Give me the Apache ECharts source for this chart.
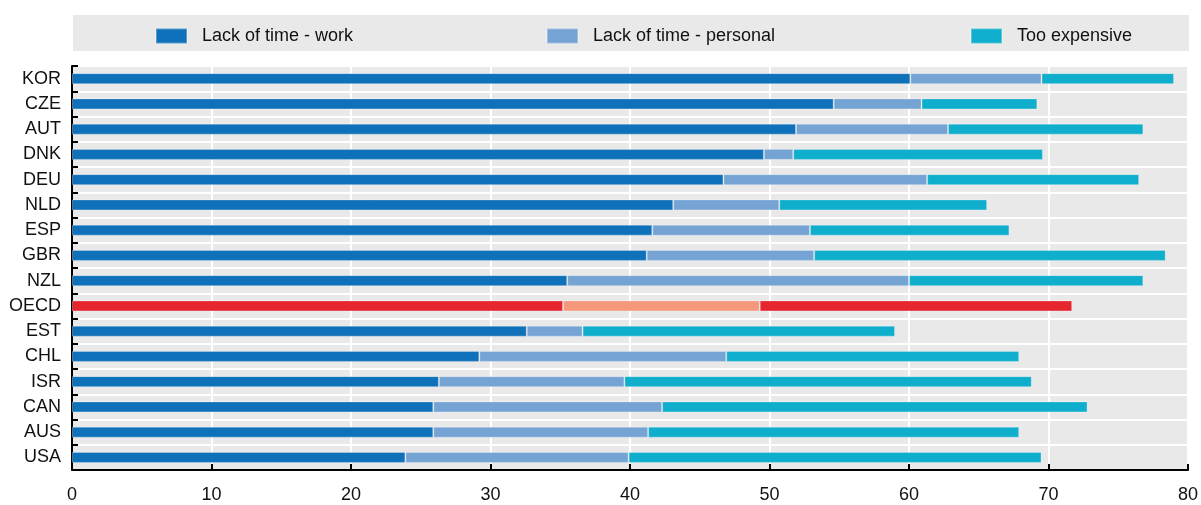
<!DOCTYPE html>
<html>
<head>
<meta charset="utf-8">
<script src="https://cdn.jsdelivr.net/npm/echarts@6/dist/echarts.min.js"></script>
<style>
html,body{margin:0;padding:0;background:#fff;}
#chart{width:1201px;height:505px;}
</style>
</head>
<body>
<div id="chart"></div>
<script>
const categories = ['KOR','CZE','AUT','DNK','DEU','NLD','ESP','GBR','NZL','OECD','EST','CHL','ISR','CAN','AUS','USA'];
const seriesNames = ['Lack of time - work','Lack of time - personal','Too expensive'];
const lackWork     = [60.1,54.6,51.9,49.6,46.7,43.1,41.6,41.2,35.5,35.2,32.6,29.2,26.3,25.9,25.9,23.9];
const lackPersonal = [9.4, 6.3, 10.9,2.1, 14.6,7.6, 11.3,12.0,24.5,14.1,4.0, 17.7,13.3,16.4,15.4,16.0];
const tooExpensive = [9.5, 8.3, 14.0,17.9,15.2,14.9,14.3,25.2,16.8,22.4,22.4,21.0,29.2,30.5,26.6,29.6];
const xTicks = [0,10,20,30,40,50,60,70,80];

const FONT = "'Liberation Sans Narrow','Arial Narrow','Liberation Sans',Arial,sans-serif";
const colors = ['#0F71B9','#74A3D4','#0FAECC'];
const oecdColors = ['#E5262E','#F5977A','#E5262E'];
const highlight = 'OECD';

function buildData(values, idx){
  return values.map((v,i)=> categories[i]===highlight
    ? {value:v, itemStyle:{color:oecdColors[idx]}}
    : v);
}

const chart = echarts.init(document.getElementById('chart'), null, {renderer:'canvas'});
const allSeries = [lackWork, lackPersonal, tooExpensive].map((vals, idx)=>({
  name: seriesNames[idx],
  type: 'bar',
  stack: 'total',
  barWidth: 11,
  data: buildData(vals, idx),
  itemStyle: {color: colors[idx], borderColor:'rgba(255,255,255,0.3)', borderWidth:1},
  emphasis:{disabled:true},
  animation:false
}));

const legendLefts = [155, 546, 970];
const option = {
  animation: false,
  graphic: [{type:'rect', left:73, top:15, shape:{width:1116, height:36}, style:{fill:'#E9E9E9'}, z:-1}],
  legend: seriesNames.map((n,i)=>({
    data:[n], left: legendLefts[i], top: 27, padding:0,
    itemWidth:31, itemHeight:15, icon:'rect',
    textStyle:{fontFamily:FONT, fontSize:18, color:'#111', padding:[0,0,0,10]},
    selectedMode:false
  })),
  grid: {left:72, right:13, top:66, bottom:35, show:true, backgroundColor:'#E9E9E9', borderWidth:0},
  xAxis: {
    type:'value', min:xTicks[0], max:xTicks[xTicks.length-1], interval:10,
    axisLine:{show:true, lineStyle:{color:'#000', width:2}},
    axisTick:{show:true, inside:true, length:6, lineStyle:{color:'#000', width:2}},
    splitLine:{show:true, lineStyle:{color:'#fff', width:2}},
    axisLabel:{fontFamily:FONT, fontSize:18, color:'#111', margin:16}
  },
  yAxis: {
    type:'category', data:categories, inverse:true,
    axisLine:{show:true, lineStyle:{color:'#000', width:2}},
    axisTick:{show:true, inside:true, length:6, interval:0, lineStyle:{color:'#000', width:2}},
    splitLine:{show:true, interval:0, lineStyle:{color:'#fff', width:2}},
    axisLabel:{fontFamily:FONT, fontSize:18, color:'#111', margin:11, interval:0}
  },
  series: allSeries
};
chart.setOption(option);
</script>
</body>
</html>
